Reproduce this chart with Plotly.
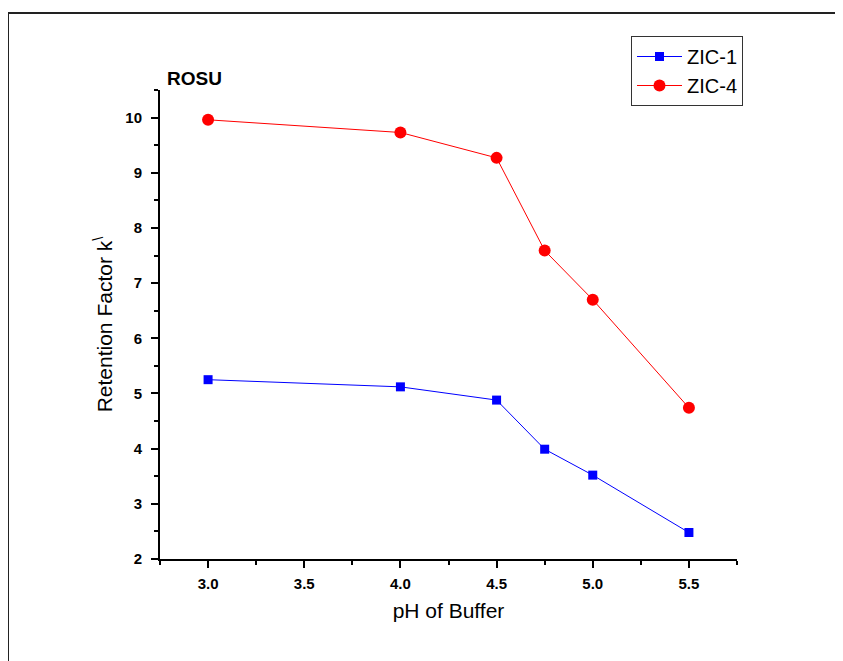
import plotly.graph_objects as go

ph = [3.0, 4.0, 4.5, 4.75, 5.0, 5.5]
zic1 = [5.25, 5.12, 4.88, 3.99, 3.52, 2.48]
zic4 = [9.96, 9.73, 9.27, 7.59, 6.70, 4.74]
x_ticks = [3.0, 3.5, 4.0, 4.5, 5.0, 5.5]
y_ticks = [2, 3, 4, 5, 6, 7, 8, 9, 10]

FONT = "Liberation Sans, Arial, sans-serif"

fig = go.Figure()
fig.add_trace(go.Scatter(
    x=ph, y=zic1, name="ZIC-1", mode="lines+markers",
    line=dict(color="#0000ff", width=1),
    marker=dict(symbol="square", size=9, color="#0000ff"),
))
fig.add_trace(go.Scatter(
    x=ph, y=zic4, name="ZIC-4", mode="lines+markers",
    line=dict(color="#ff0000", width=1),
    marker=dict(symbol="circle", size=12, color="#ff0000"),
))

# page body has an 8px default margin; work in screen pixels and shift
OFF = 8
W, H = 843 - OFF, 661 - OFF
L, R, T, B = 160 - OFF, 106, 90 - OFF, 102
pw, ph_ = W - L - R, H - T - B

def px(xpix):
    return (xpix - OFF - L) / pw

def py(ypix):
    return (H - B - (ypix - OFF)) / ph_

fig.update_layout(
    width=W, height=H,
    margin=dict(l=L, r=R, t=T, b=B),
    paper_bgcolor="white", plot_bgcolor="white",
    font=dict(family=FONT, color="black"),
    showlegend=True,
    legend=dict(
        x=px(631), y=py(36), xanchor="left", yanchor="top",
        bordercolor="#333333", borderwidth=1, bgcolor="white",
        font=dict(size=20, family=FONT),
        tracegroupgap=0, itemwidth=45,
    ),
    xaxis=dict(
        range=[2.75, 5.75], tickvals=x_ticks, tickformat=".1f",
        ticks="outside", ticklen=7, tickwidth=1.5, tickcolor="black",
        minor=dict(dtick=0.25, tick0=2.75, ticks="outside", ticklen=4, tickwidth=1.5, tickcolor="black"),
        showline=True, linecolor="black", linewidth=2,
        showgrid=False, zeroline=False,
        tickfont=dict(size=15, family=FONT, weight="bold"),
        ticklabelstandoff=3,
        title=dict(text="pH of Buffer", font=dict(size=21, family=FONT), standoff=12),
    ),
    yaxis=dict(
        range=[2, 10.5], tickvals=y_ticks,
        ticks="outside", ticklen=7, tickwidth=1.5, tickcolor="black",
        minor=dict(dtick=0.5, tick0=2, ticks="outside", ticklen=4, tickwidth=1.5, tickcolor="black"),
        showline=True, linecolor="black", linewidth=2,
        showgrid=False, zeroline=False,
        tickfont=dict(size=15, family=FONT, weight="bold"),
        ticklabelstandoff=6,
        title=dict(text="Retention Factor k<sup>\\</sup>", font=dict(size=21, family=FONT), standoff=7),
    ),
    annotations=[dict(
        text="<b>ROSU</b>", x=px(165), y=py(78), xref="paper", yref="paper",
        xanchor="left", yanchor="middle", showarrow=False,
        font=dict(size=19, family=FONT),
    )],
    shapes=[dict(
        type="rect", xref="paper", yref="paper",
        x0=px(8), x1=px(860), y0=py(680), y1=py(13),
        line=dict(color="#222222", width=2), fillcolor="rgba(0,0,0,0)", layer="below",
    )],
)

fig.write_html("out.html")
